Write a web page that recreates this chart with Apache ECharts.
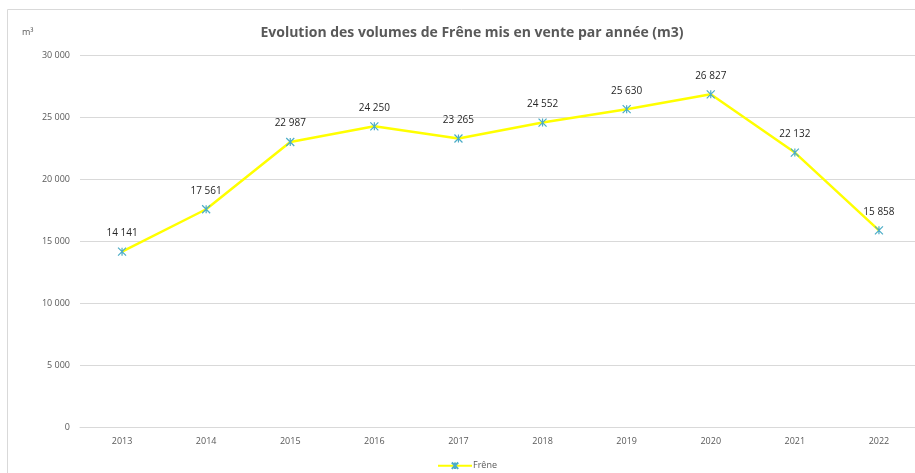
<!DOCTYPE html>
<html><head><meta charset="utf-8">
<script src="https://cdn.jsdelivr.net/npm/echarts@6/dist/echarts.min.js"></script>
<style>html,body{margin:0;padding:0;background:#fff}#c{width:915px;height:473px}</style>
</head><body><div id="c"></div>
<script>
const years = ['2013','2014','2015','2016','2017','2018','2019','2020','2021','2022'];
const frene = [14141,17561,22987,24250,23265,24552,25630,26827,22132,15858];
const yTicks = {min:0, max:30000, interval:5000};
const fmt = v => String(v).replace(/\B(?=(\d{3})+(?!\d))/g,' ');
const star = 'path://M0,0L10,10M10,0L0,10M5,0L5,10';
const chart = echarts.init(document.getElementById('c'), null, {renderer:'canvas'});
chart.setOption({
  animation:false,
  textStyle:{fontFamily:'Open Sans, Liberation Sans, sans-serif'},
  graphic:[
    {type:'rect',shape:{x:7.5,y:9.5,width:920,height:480},style:{fill:'none',stroke:'#d9d9d9',lineWidth:1}},
    {type:'text',left:22,top:28,style:{text:'m³',fontSize:9,fill:'#595959',fontFamily:'Open Sans, sans-serif'}}
  ],
  title:{text:'Evolution des volumes de Frêne mis en vente par année (m3)',left:467,top:21,textAlign:'center',
    textStyle:{fontSize:14,fontWeight:'bold',color:'#595959',fontFamily:'Open Sans, sans-serif'}},
  legend:{top:455,left:432,itemWidth:34,itemHeight:8,
    data:['Frêne'],
    textStyle:{fontSize:9,color:'#595959',padding:[0,0,0,-4]}},
  grid:{left:80,width:841,top:55,bottom:46,outerBoundsMode:'none',containLabel:false},
  xAxis:{type:'category',data:years,boundaryGap:true,
    axisLine:{show:true,lineStyle:{color:'#d9d9d9'}},axisTick:{show:false},
    axisLabel:{fontSize:9,color:'#595959',margin:10}},
  yAxis:{type:'value',min:yTicks.min,max:yTicks.max,interval:yTicks.interval,
    axisLine:{show:false},axisTick:{show:false},
    splitLine:{lineStyle:{color:'#d9d9d9'}},
    axisLabel:{fontSize:9,color:'#595959',margin:10,formatter:v=>fmt(v)}},
  series:[{name:'Frêne',type:'line',data:frene,
    lineStyle:{color:'#ffff00',width:2.5},
    symbol:star,symbolSize:8,
    itemStyle:{color:'none',borderColor:'#4bacc6',borderWidth:1.2},
    label:{show:true,position:'top',distance:7,fontSize:10,color:'#262626',formatter:p=>fmt(p.value)}}]
});
</script></body></html>
